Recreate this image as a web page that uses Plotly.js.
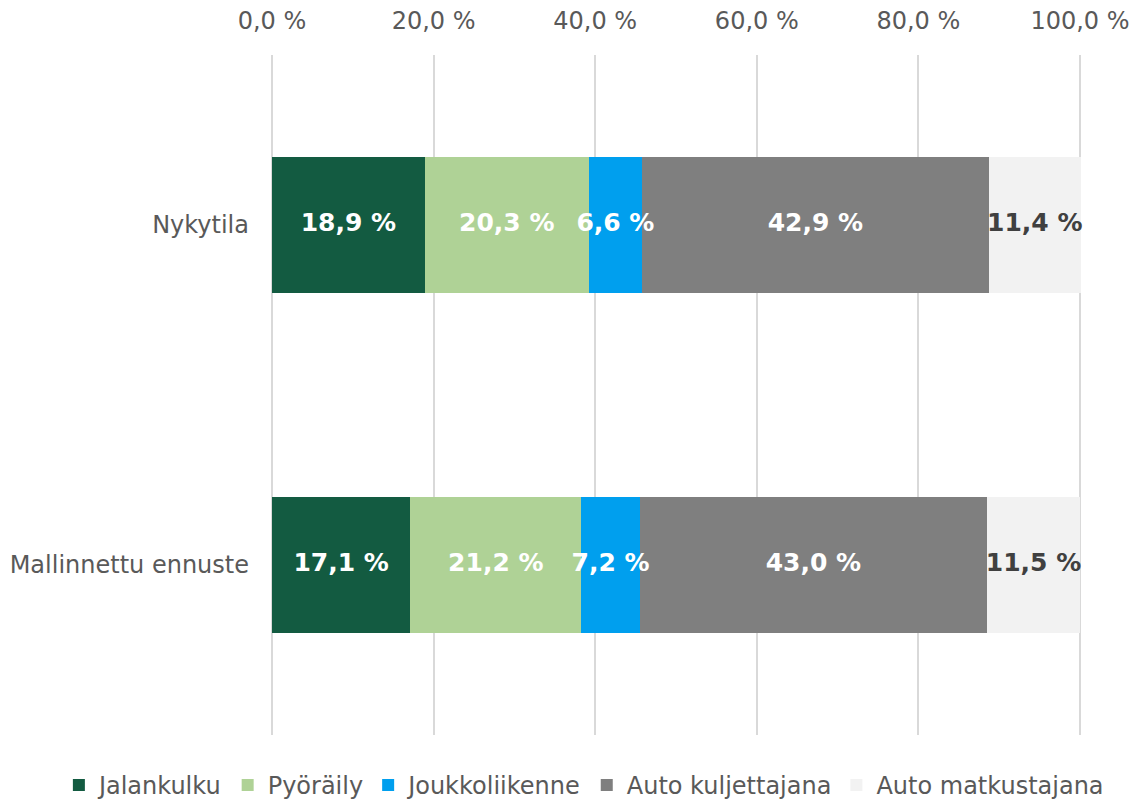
<!DOCTYPE html>
<html>
<head>
<meta charset="utf-8">
<script src="https://cdn.plot.ly/plotly-3.0.1.min.js"></script>
<style>
  html, body { margin: 0; padding: 0; background: #fff; }
  #chart { width: 1137px; height: 800px; }
</style>
</head>
<body>
<div id="chart"></div>
<script>
// categories (top to bottom)
const scenarios = ['Nykytila', 'Mallinnettu ennuste'];

// share of trips, %
const jalankulku = [18.9, 17.1];
const pyoraily = [20.3, 21.2];
const joukkoliikenne = [6.6, 7.2];
const autoKuljettajana = [42.9, 43.0];
const autoMatkustajana = [11.4, 11.5];

const seriesNames = ['Jalankulku', 'Pyöräily', 'Joukkoliikenne', 'Auto kuljettajana', 'Auto matkustajana'];
const seriesValues = [jalankulku, pyoraily, joukkoliikenne, autoKuljettajana, autoMatkustajana];
const seriesColors = ['#135b41', '#afd296', '#009fee', '#7f7f7f', '#f2f2f2'];
const labelColors = ['#ffffff', '#ffffff', '#ffffff', '#ffffff', '#404040'];

// x axis ticks
const xTicks = [0, 20, 40, 60, 80, 100];
const xTickText = xTicks.map(v => v.toFixed(1).replace('.', ',') + ' %');

const FONT = 'Verdana, "DejaVu Sans", sans-serif';

// stacked bars
var bars = seriesNames.map((name, i) => ({
    type: 'bar',
    orientation: 'h',
    name: name,
    y: scenarios,
    x: seriesValues[i],
    marker: { color: seriesColors[i], line: { width: 0 } },
    hoverinfo: 'name+x'
}));

// data labels on top of all bars, centred in each segment
var base = scenarios.map(() => 0);
var labels = seriesValues.map((vals, i) => {
    const mids = vals.map((v, j) => base[j] + v / 2);
    base = base.map((b, j) => b + vals[j]);
    return {
        type: 'scatter',
        mode: 'text',
        x: mids,
        y: scenarios,
        customdata: vals,
        texttemplate: '%{customdata:.1f} %',
        textposition: 'middle center',
        textfont: { family: FONT, size: 25, color: labelColors[i], weight: 'bold' },
        cliponaxis: false,
        showlegend: false,
        hoverinfo: 'skip'
    };
});

var data = [...bars, ...labels];

var layout = {
    width: 1137,
    height: 800,
    barmode: 'stack',
    bargap: 0.6,
    separators: ', ',
    paper_bgcolor: '#ffffff',
    plot_bgcolor: '#ffffff',
    font: { family: FONT, size: 24, color: '#595959' },
    margin: { l: 270, r: 55, t: 55, b: 65, autoexpand: false },
    xaxis: {
        side: 'top',
        range: [-0.25, 100.25],
        tickmode: 'array',
        tickvals: xTicks,
        ticktext: xTickText,
        showgrid: true,
        gridcolor: '#d9d9d9',
        gridwidth: 2,
        zeroline: false,
        showline: false,
        ticks: '',
        ticklabelstandoff: 20,
        tickfont: { size: 24, color: '#595959' },
        fixedrange: true
    },
    yaxis: {
        autorange: 'reversed',
        showgrid: false,
        zeroline: false,
        showline: false,
        ticks: '',
        ticklabelstandoff: 20,
        tickfont: { size: 24, color: '#595959' },
        fixedrange: true
    },
    showlegend: true,
    legend: {
        orientation: 'h',
        x: -0.26,
        xanchor: 'left',
        y: -0.074,
        yanchor: 'middle',
        font: { size: 24, color: '#595959' },
        traceorder: 'normal'
    }
};

Plotly.newPlot('chart', data, layout, { displayModeBar: false, staticPlot: true });
</script>
</body>
</html>
